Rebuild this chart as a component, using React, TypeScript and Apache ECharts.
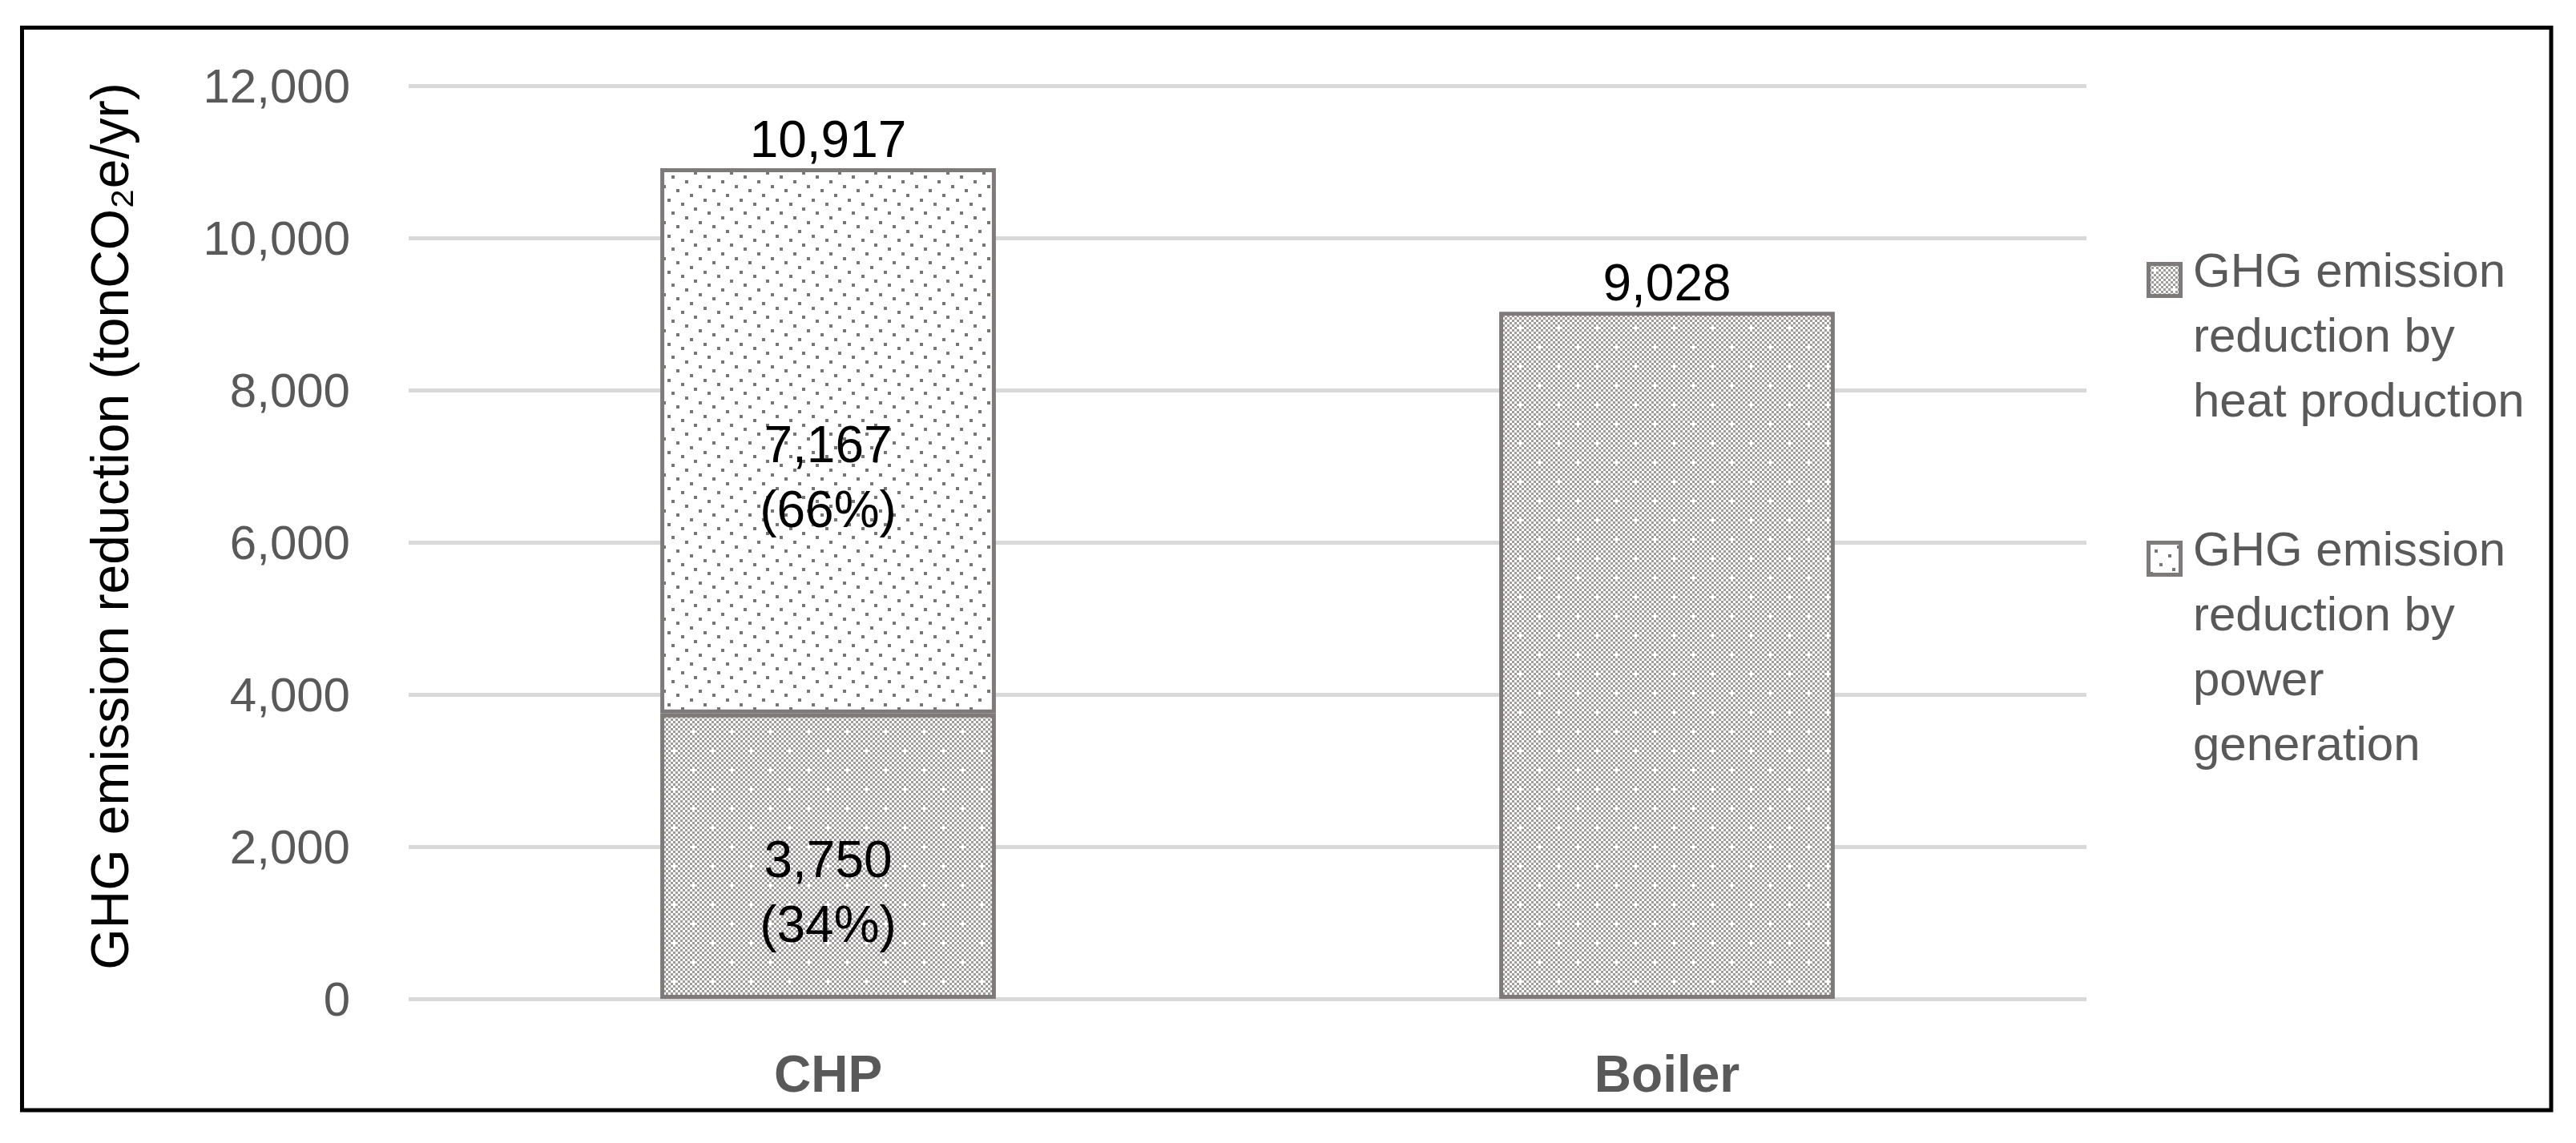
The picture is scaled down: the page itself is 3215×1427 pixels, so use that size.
import React, { useEffect, useRef } from "react";
import * as echarts from "echarts";

const categories = ["CHP", "Boiler"];
const heatValues: (number | null)[] = [3750, 9028];
const powerValues: (number | null)[] = [7167, null];
const seriesNames = [
  "GHG emission reduction by heat production",
  "GHG emission reduction by power generation",
];
const legendLines = [
  ["GHG emission", "reduction by", "heat production"],
  ["GHG emission", "reduction by", "power", "generation"],
];
const yAxisTitle = "GHG emission reduction (tonCO\u2082e/yr)";
const yMin = 0;
const yMax = 12000;
const yInterval = 2000;

const FONT = "'Liberation Sans', Arial, sans-serif";
const GRAY_TEXT = "#595959";
const BORDER = "#7f7a7a";

function fmt(v: number): string {
  return v.toLocaleString("en-US");
}

function makeChecker(): HTMLCanvasElement {
  const cell = 3;
  const n = 16;
  const c = document.createElement("canvas");
  c.width = cell * n;
  c.height = cell * n;
  const ctx = c.getContext("2d")!;
  ctx.fillStyle = "#ffffff";
  ctx.fillRect(0, 0, c.width, c.height);
  ctx.fillStyle = "#a09c9c";
  for (let i = 0; i < n; i++) {
    for (let j = 0; j < n; j++) {
      if ((i + j) % 2 !== 0) continue;
      if ((i === 0 && j === 0) || (i === 8 && j === 8)) continue;
      ctx.fillRect(i * cell, j * cell, cell, cell);
    }
  }
  return c;
}

function makeDots(): HTMLCanvasElement {
  const c = document.createElement("canvas");
  c.width = 45;
  c.height = 45;
  const ctx = c.getContext("2d")!;
  ctx.fillStyle = "#ffffff";
  ctx.fillRect(0, 0, 45, 45);
  ctx.fillStyle = "#7a7575";
  const offs = [0, 17, 34, 6, 23, 40, 11, 28];
  for (let k = 0; k < 8; k++) {
    const y = Math.round(k * 5.625);
    ctx.fillRect(offs[k], y, 4, 4);
  }
  return c;
}

export default function App() {
  const ref = useRef<HTMLDivElement>(null);

  useEffect(() => {
    if (!ref.current) return;
    const chart = echarts.init(ref.current, undefined, { renderer: "svg" });
    const checker = makeChecker();
    const dots = makeDots();
    const heatFill: any = { image: checker, repeat: "repeat" };
    const powerFill: any = { image: dots, repeat: "repeat" };

    const totals = categories.map(
      (_, i) => (heatValues[i] ?? 0) + (powerValues[i] ?? 0)
    );

    const insideLabel = (vals: (number | null)[]) => ({
      show: true,
      position: "inside",
      offset: [0, 45],
      fontSize: 64,
      lineHeight: 81,
      color: "#000",
      fontFamily: FONT,
      formatter: (p: any) => {
        const v = vals[p.dataIndex] as number;
        const pct = Math.round((v / totals[p.dataIndex]) * 100);
        return `${fmt(v)}\n(${pct}%)`;
      },
    });

    const stackedCount = (i: number) =>
      (heatValues[i] != null ? 1 : 0) + (powerValues[i] != null ? 1 : 0);

    const heatData = heatValues.map((v, i) => ({
      value: v == null ? "-" : v,
      label: stackedCount(i) > 1 ? insideLabel(heatValues) : { show: false },
    }));
    const powerData = powerValues.map((v, i) => ({
      value: v == null ? "-" : v,
      label: stackedCount(i) > 1 ? insideLabel(powerValues) : { show: false },
    }));

    const legendGraphics: any[] = [];
    const legendTops = [297, 645];
    const iconTops = [327, 675];
    [heatFill, powerFill].forEach((fill, k) => {
      legendGraphics.push({
        type: "rect",
        shape: { x: 2681.5, y: iconTops[k] + 2.5, width: 40, height: 40 },
        style: { fill, stroke: BORDER, lineWidth: 5 },
        silent: true,
      });
      legendGraphics.push({
        type: "text",
        x: 2737,
        y: legendTops[k],
        style: {
          text: legendLines[k].join("\n"),
          fontSize: 60,
          lineHeight: 81,
          fontFamily: FONT,
          fill: GRAY_TEXT,
          verticalAlign: "top",
          align: "left",
        },
        silent: true,
      });
    });

    chart.setOption({
      animation: false,
      backgroundColor: "#ffffff",
      grid: { left: 510, right: 611, top: 107, bottom: 180, containLabel: false },
      xAxis: {
        type: "category",
        data: categories,
        axisLine: { show: false },
        axisTick: { show: false },
        axisLabel: {
          margin: 62,
          fontSize: 64,
          fontWeight: "bold",
          color: GRAY_TEXT,
          fontFamily: FONT,
        },
      },
      yAxis: {
        type: "value",
        min: yMin,
        max: yMax,
        interval: yInterval,
        name: yAxisTitle,
        nameLocation: "middle",
        nameRotate: 90,
        nameGap: 340,
        nameTextStyle: {
          fontSize: 66,
          color: "#000",
          fontFamily: FONT,
          padding: [0, 0, 0, 40],
        },
        axisLine: { show: false },
        axisTick: { show: false },
        axisLabel: {
          margin: 73,
          fontSize: 60,
          color: GRAY_TEXT,
          fontFamily: FONT,
          formatter: (v: number) => fmt(v),
        },
        splitLine: { lineStyle: { color: "#d9d9d9", width: 5 } },
      },
      series: [
        {
          name: seriesNames[0],
          type: "bar",
          stack: "total",
          barWidth: "40%",
          data: heatData,
          itemStyle: { color: heatFill, borderColor: BORDER, borderWidth: 5 },
        },
        {
          name: seriesNames[1],
          type: "bar",
          stack: "total",
          barWidth: "40%",
          data: powerData,
          itemStyle: { color: powerFill, borderColor: BORDER, borderWidth: 5 },
        },
        {
          name: "Total",
          type: "bar",
          stack: "total",
          barWidth: "40%",
          data: totals.map(() => 0),
          itemStyle: { color: "transparent", borderWidth: 0 },
          label: {
            show: true,
            position: "top",
            distance: 4,
            fontSize: 64,
            color: "#000",
            fontFamily: FONT,
            formatter: (p: any) => fmt(totals[p.dataIndex]),
          },
        },
      ],
      graphic: [
        {
          type: "rect",
          shape: { x: 27.5, y: 34.5, width: 3156.5, height: 1351.5 },
          style: { fill: "none", stroke: "#000", lineWidth: 5 },
          silent: true,
        },
        ...legendGraphics,
      ],
    });

    return () => chart.dispose();
  }, []);

  return (
    <div
      ref={ref}
      style={{
        position: "fixed",
        left: 0,
        top: 0,
        width: 3215,
        height: 1427,
        background: "#ffffff",
      }}
    />
  );
}
